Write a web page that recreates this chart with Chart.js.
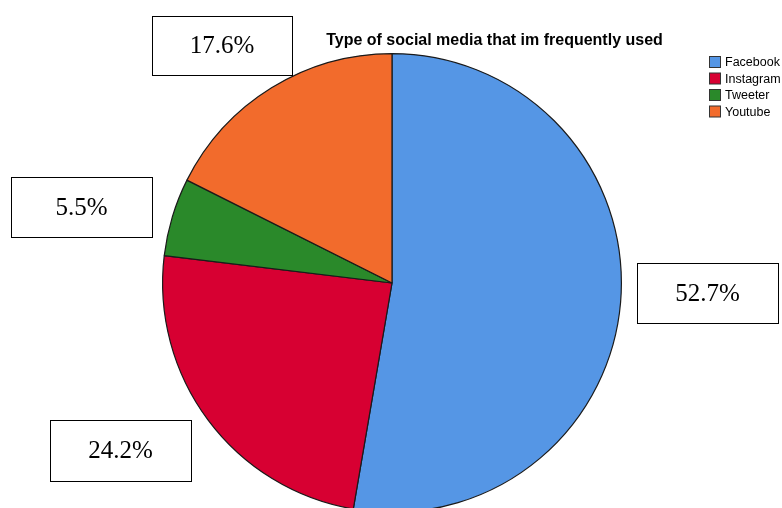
<!DOCTYPE html>
<html lang="en">
<head>
    <meta charset="UTF-8">
    <title>Type of social media</title>
    <script src="https://cdn.jsdelivr.net/npm/chart.js"></script>
    <style>
        html, body { margin: 0; padding: 0; background: #fff; overflow: hidden; }
        #wrap { width: 782px; height: 520px; }
    </style>
</head>
<body>
<div id="wrap"><canvas id="pieChart" width="782" height="520"></canvas></div>
<script>
    // chart data
    const categories = ['Facebook', 'Instagram', 'Tweeter', 'Youtube'];
    const percents = [52.7, 24.2, 5.5, 17.6];
    const pctLabels = ['52.7%', '24.2%', '5.5%', '17.6%'];
    const sliceColors = ['#5596E5', '#D70032', '#2A892A', '#F26B2C'];

    // where each label box sits (left, top, width, height)
    const boxSpots = [
        [637, 263, 141, 60],
        [50, 420, 141, 61],
        [11, 177, 141, 60],
        [152, 16, 140, 59]
    ];

    // draws title, legend and the boxed percent labels
    const extras = {
        id: 'extras',
        afterDraw(chart) {
            const ctx = chart.ctx;
            ctx.save();

            ctx.fillStyle = '#000';
            ctx.font = 'bold 16px "Liberation Sans", Arial, sans-serif';
            ctx.textAlign = 'center';
            ctx.textBaseline = 'middle';
            ctx.fillText('Type of social media that im frequently used', 494.5, 41);

            // legend
            ctx.font = '12.5px "Liberation Sans", Arial, sans-serif';
            ctx.textAlign = 'left';
            categories.forEach((name, i) => {
                const y = 56 + i * 16.5;
                ctx.fillStyle = sliceColors[i];
                ctx.fillRect(709.5, y + 0.5, 11, 11);
                ctx.strokeStyle = '#333';
                ctx.lineWidth = 1;
                ctx.strokeRect(709.5, y + 0.5, 11, 11);
                ctx.fillStyle = '#000';
                ctx.fillText(name, 725, y + 7);
            });

            // label boxes
            ctx.font = '25px "Liberation Serif", "DejaVu Serif", serif';
            ctx.textAlign = 'center';
            boxSpots.forEach((b, i) => {
                ctx.fillStyle = '#fff';
                ctx.fillRect(b[0], b[1], b[2], b[3]);
                ctx.strokeStyle = '#000';
                ctx.lineWidth = 1;
                ctx.strokeRect(b[0] + 0.5, b[1] + 0.5, b[2], b[3]);
                ctx.fillStyle = '#000';
                ctx.fillText(pctLabels[i], b[0] + b[2] / 2, b[1] + b[3] / 2 + 1);
            });

            ctx.restore();
        }
    };

    new Chart(document.getElementById('pieChart').getContext('2d'), {
        type: 'pie',
        data: {
            labels: categories,
            datasets: [{
                data: percents,
                backgroundColor: sliceColors,
                borderColor: '#1a1a1a',
                borderWidth: 1.2
            }]
        },
        options: {
            responsive: false,
            animation: false,
            layout: {
                padding: { top: 53, bottom: 7, left: 162, right: 160 }
            },
            plugins: {
                legend: { display: false },
                tooltip: { enabled: false }
            }
        },
        plugins: [extras]
    });
</script>
</body>
</html>
